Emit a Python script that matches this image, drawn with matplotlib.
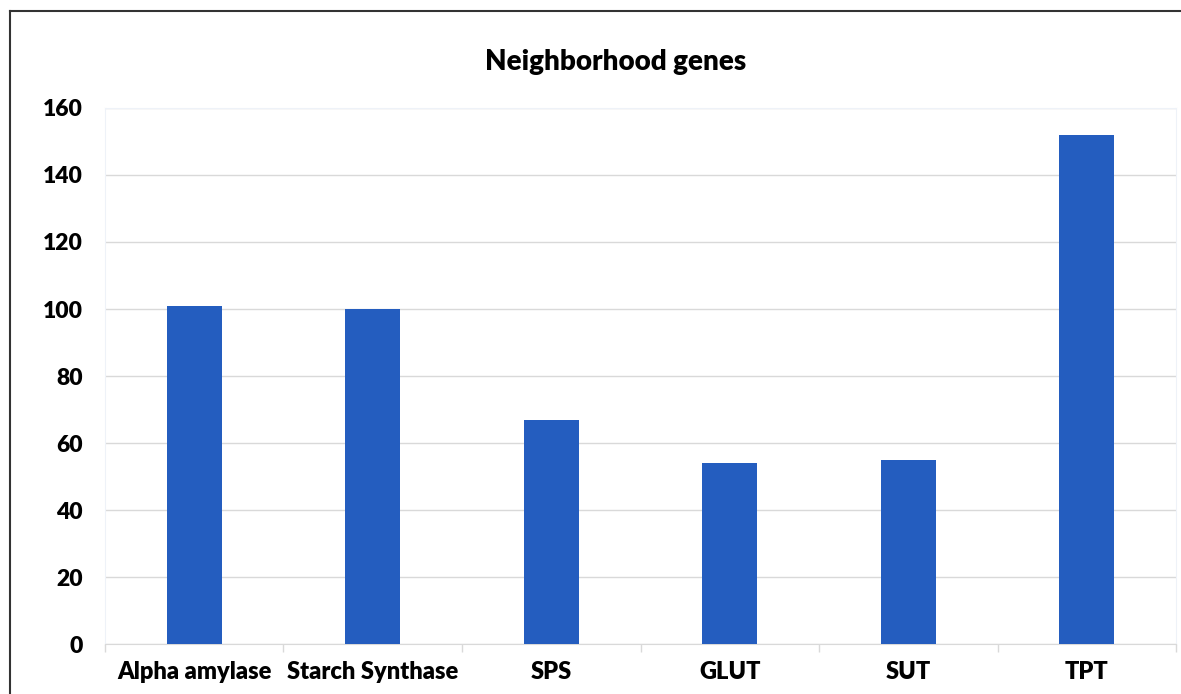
import matplotlib.pyplot as plt
from matplotlib.lines import Line2D
import numpy as np

genes = ["Alpha amylase", "Starch Synthase", "SPS", "GLUT", "SUT", "TPT"]
counts = [101, 100, 67, 54, 55, 152]
yticks = [0, 20, 40, 60, 80, 100, 120, 140, 160]

plt.rcParams['font.family'] = ['Lato', 'DejaVu Sans']
plt.rcParams['font.weight'] = 'bold'

fig = plt.figure(figsize=(11.81, 6.94), dpi=100)
ax = fig.add_axes([0.0889, 0.072, 0.9069, 0.7724])

x = np.arange(len(genes))
ax.bar(x, counts, width=0.31, color='#245dbf', zorder=3)

ax.set_xlim(-0.5, len(genes) - 0.5)
ax.set_ylim(0, 160)
ax.set_yticks(yticks)
ax.set_yticklabels([str(t) for t in yticks], fontsize=16.5, fontweight='heavy')
ax.set_xticks(x)
ax.set_xticklabels(genes, fontsize=17, fontweight='heavy')
ax.set_xticks(np.arange(len(genes) + 1) - 0.5, minor=True)
ax.tick_params(axis='x', which='major', length=0, pad=12)
ax.tick_params(axis='x', which='minor', length=6, color='#d9d9d9', width=1)
ax.tick_params(axis='y', length=0, pad=16)

ax.grid(axis='y', color='#d9d9d9', linewidth=1, zorder=0)
for s in ['left', 'right', 'top']:
    ax.spines[s].set_color('#eef2f8')
ax.spines['bottom'].set_color('#d9d9d9')

fig.text(0.521, 0.91, "Neighborhood genes", ha='center', va='center',
         fontsize=20, fontweight='heavy')

# outer frame of the chart box (top and left edges visible)
fx = 10 / 1181
fy = (694 - 11) / 694
fig.add_artist(Line2D([fx, 1.0], [fy, fy], transform=fig.transFigure,
                      color='#333333', linewidth=1.5))
fig.add_artist(Line2D([fx, fx], [0.0, fy], transform=fig.transFigure,
                      color='#333333', linewidth=1.5))

fig.savefig("out.png", dpi=100)
